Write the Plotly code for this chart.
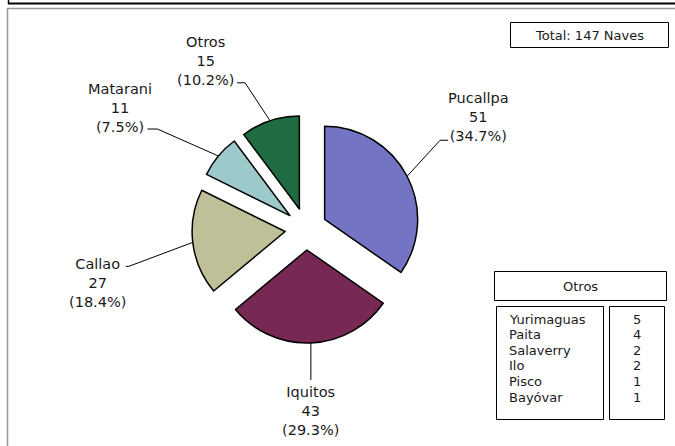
import math
import plotly.graph_objects as go

# ---- data ----
ports = ["Pucallpa", "Iquitos", "Callao", "Matarani", "Otros"]
naves = [51, 43, 27, 11, 15]
otros_ports = ["Yurimaguas", "Paita", "Salaverry", "Ilo", "Pisco", "Bayóvar"]
otros_naves = [5, 4, 2, 2, 1, 1]

# ---- styling / layout constants ----
W, H = 675, 446
colors = ["#7474c4", "#782953", "#bfbf98", "#9ccaca", "#1f6c42"]
CX, CY, R, PULL = 306, 229, 93, 0.226
FONT = "DejaVu Sans"
TXT = "#1a1a1a"
# leader: (dx, dy) from slice edge to elbow, horizontal tail, text center offset from tail end
leader = [(33, -36), (0, 37), (-64, 24), (-61, -27), (-25, -38)]
tail = [8, 0, -3, -10, -8]
txt_off = [(30, -23), (0, 31), (-28, 17), (-27, -21), (-32, -22)]


def px(x):
    return x / W


def py(y):
    return 1 - y / H


RT = R * (1 + PULL)
fig = go.Figure(go.Pie(
    labels=ports, values=naves, sort=False, direction="clockwise", rotation=0,
    pull=PULL, textinfo="none", hoverinfo="label+value+percent",
    marker=dict(colors=colors, line=dict(color="black", width=1.5)),
    domain=dict(x=[px(CX - RT), px(CX + RT)], y=[py(CY + RT), py(CY - RT)]),
    showlegend=False,
))

shapes = []
annotations = []
total = sum(naves)
cum = 0
for i, (name, v) in enumerate(zip(ports, naves)):
    mid = (cum + v / 2) / total * 2 * math.pi
    cum += v
    ex = CX + RT * math.sin(mid)
    ey = CY - RT * math.cos(mid)
    bx, by = ex + leader[i][0], ey + leader[i][1]
    tx, ty = bx + tail[i], by
    shapes.append(dict(type="path", xref="paper", yref="paper",
                       path=f"M {px(ex)},{py(ey)} L {px(bx)},{py(by)} L {px(tx)},{py(ty)}",
                       line=dict(color="black", width=1)))
    annotations.append(dict(
        x=px(tx + txt_off[i][0]), y=py(ty + txt_off[i][1]), xref="paper", yref="paper",
        xanchor="center", yanchor="middle", align="center", showarrow=False,
        text=f"{name}<br>{v}<br>({v / total * 100:.1f}%)",
        font=dict(family=FONT, size=14.5, color=TXT)))

# frame
shapes.append(dict(type="line", xref="paper", yref="paper", x0=px(8), x1=px(680), y0=py(3.5), y1=py(3.5),
                   line=dict(color="black", width=2)))
shapes.append(dict(type="line", xref="paper", yref="paper", x0=px(8.5), x1=px(8.5), y0=py(-2), y1=py(4),
                   line=dict(color="black", width=1.5)))
shapes.append(dict(type="rect", xref="paper", yref="paper", x0=px(7.5), x1=px(690), y0=py(8.5), y1=py(460),
                   line=dict(color="#999999", width=1.5)))

# total box
shapes.append(dict(type="rect", xref="paper", yref="paper", x0=px(510.5), x1=px(668.5), y0=py(22.5), y1=py(47.5),
                   line=dict(color="black", width=1)))
annotations.append(dict(x=px(589.5), y=py(35), xref="paper", yref="paper", showarrow=False,
                        xanchor="center", yanchor="middle",
                        text=f"Total: {total} Naves", font=dict(family=FONT, size=13, color=TXT)))

# otros table
shapes.append(dict(type="rect", xref="paper", yref="paper", x0=px(494.5), x1=px(666.5), y0=py(271.5), y1=py(300.5),
                   line=dict(color="black", width=1)))
shapes.append(dict(type="rect", xref="paper", yref="paper", x0=px(496.5), x1=px(603.5), y0=py(306.5), y1=py(419.5),
                   line=dict(color="black", width=1)))
shapes.append(dict(type="rect", xref="paper", yref="paper", x0=px(609.5), x1=px(664.5), y0=py(306.5), y1=py(419.5),
                   line=dict(color="black", width=1)))
annotations.append(dict(x=px(580.5), y=py(286), xref="paper", yref="paper", showarrow=False,
                        xanchor="center", yanchor="middle", text="Otros",
                        font=dict(family=FONT, size=13, color=TXT)))
for j, (n, v) in enumerate(zip(otros_ports, otros_naves)):
    yy = 319 + j * 15.6
    annotations.append(dict(x=px(507), y=py(yy), xref="paper", yref="paper", showarrow=False,
                            xanchor="left", yanchor="middle", text=n,
                            font=dict(family=FONT, size=13, color=TXT)))
    annotations.append(dict(x=px(637), y=py(yy), xref="paper", yref="paper", showarrow=False,
                            xanchor="center", yanchor="middle", text=str(v),
                            font=dict(family=FONT, size=13, color=TXT)))

fig.update_layout(width=W, height=H, margin=dict(l=0, r=0, t=0, b=0),
                  paper_bgcolor="white", plot_bgcolor="white",
                  shapes=shapes, annotations=annotations)
fig.write_html("out.html", config={"displayModeBar": False},
               post_script="document.body.style.margin='0';document.body.style.overflow='hidden';")
